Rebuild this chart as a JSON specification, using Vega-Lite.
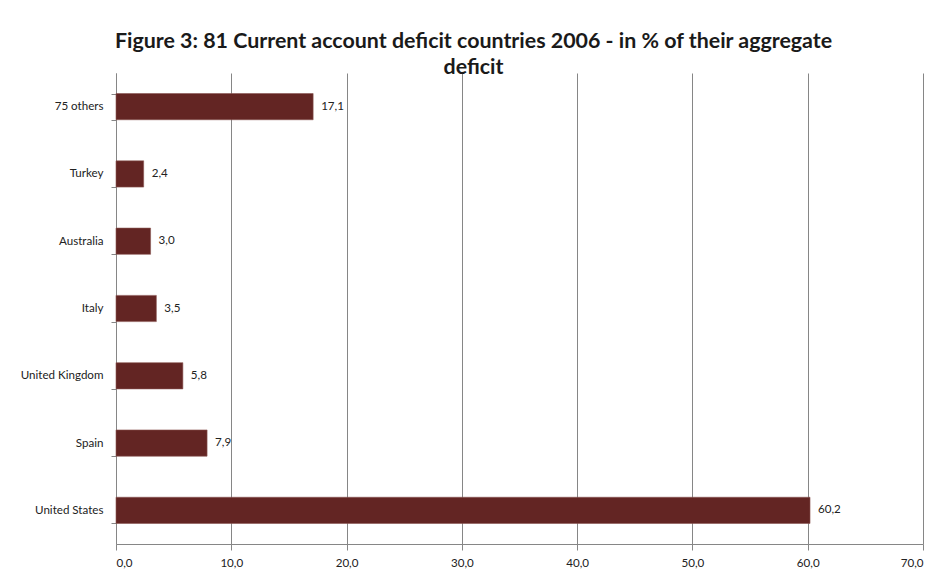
{
  "$schema": "https://vega.github.io/schema/vega-lite/v6.json",
  "width": 807,
  "height": 471,
  "autosize": "none",
  "padding": {"left": 116, "top": 73, "right": 13, "bottom": 35},
  "background": "white",
  "title": {
    "text": ["Figure 3: 81 Current account deficit countries 2006 - in % of their aggregate", "deficit"],
    "font": "Lato",
    "fontSize": 21.4,
    "fontWeight": "bold",
    "color": "#1a1a1a",
    "anchor": "middle",
    "dx": -46,
    "offset": -11,
    "lineHeight": 26
  },
  "data": {
    "values": [
      {"country": "75 others", "value": 17.1},
      {"country": "Turkey", "value": 2.4},
      {"country": "Australia", "value": 3.0},
      {"country": "Italy", "value": 3.5},
      {"country": "United Kingdom", "value": 5.8},
      {"country": "Spain", "value": 7.9},
      {"country": "United States", "value": 60.2}
    ]
  },
  "encoding": {
    "y": {
      "field": "country",
      "type": "nominal",
      "sort": null,
      "scale": {"paddingInner": 0.61, "paddingOuter": 0.305},
      "axis": {
        "title": null,
        "domainColor": "#868686",
        "tickColor": "#868686",
        "tickSize": 5,
        "tickBand": "extent",
        "labelFont": "Lato",
        "labelFontSize": 11.6,
        "labelColor": "#222222",
        "labelPadding": 8,
        "grid": false
      }
    },
    "x": {
      "field": "value",
      "type": "quantitative",
      "scale": {"domain": [0, 70], "nice": false},
      "axis": {
        "title": null,
        "values": [0, 10, 20, 30, 40, 50, 60, 70],
        "labelExpr": "replace(format(datum.value, '.1f'), '.', ',')",
        "domainColor": "#868686",
        "tickColor": "#868686",
        "tickSize": 6,
        "gridColor": "#868686",
        "gridWidth": 1,
        "labelFont": "Lato",
        "labelFontSize": 11.6,
        "labelColor": "#222222",
        "labelPadding": 7
      }
    }
  },
  "layer": [
    {
      "mark": {"type": "bar", "color": "#632523", "stroke": "#8a5552", "strokeWidth": 0.6}
    },
    {
      "mark": {"type": "text", "align": "left", "dx": 8, "font": "Lato", "fontSize": 11.6, "color": "#222222"},
      "encoding": {
        "text": {"field": "label"}
      },
      "transform": [{"calculate": "replace(format(datum.value, '.1f'), '.', ',')", "as": "label"}]
    }
  ],
  "config": {"view": {"stroke": null}}
}
